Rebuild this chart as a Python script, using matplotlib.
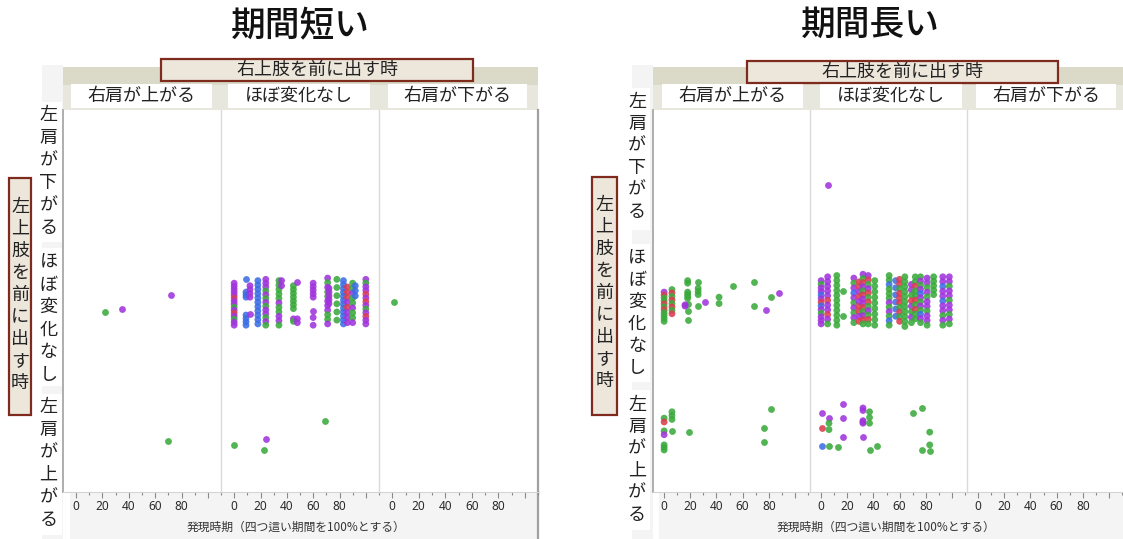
import matplotlib
matplotlib.use("Agg")
import matplotlib.pyplot as plt
import numpy as np
from matplotlib.patches import Rectangle
from matplotlib.ticker import FixedLocator

# ---------------------------------------------------------------------------
# Data: onset timing (% of the crawling period) per facet cell.
# Each entry: (onset %, colour codes of stacked points, jitter top, jitter bottom)
# jitter is in percent of the row height, relative to the row centre.
# Colour codes: P purple, G green, B blue, R red.
# ---------------------------------------------------------------------------
row_labels = ["左肩が下がる", "ほぼ変化なし", "左肩が上がる"]
col_labels = ["右肩が上がる", "ほぼ変化なし", "右肩が下がる"]
chart_titles = ["期間短い", "期間長い"]
col_group_label = "右上肢を前に出す時"
row_group_label = "左上肢を前に出す時"
x_label = "発現時期（四つ這い期間を100%とする）"
tick_values = [0, 20, 40, 60, 80, 100]
tick_labels = ["0", "20", "40", "60", "80", ""]

# 期間短い
short_same_rup = [(22, "G", 9, 9), (35, "P", 6, 6), (72, "P", -5, -5)]
short_same_rsame = [
    (0, "PPPPPRPPGPRPGPP", -14, 19),
    (9, "B", -17, -17), (9, "BBB", -7, -3), (9, "BBBB", 11, 19),
    (12, "PPPP", -12, -3), (12, "P", 10, 10),
    (18, "BBBBBBBBBBB", -16, 18),
    (24, "PPPGPGPGPPGPG", -17, 19),
    (34, "GGGGGPGGPPG", -16, 19),
    (36, "PP", -16, -12),
    (45, "GGGGGGG", -12, 6), (45, "PG", 14, 16),
    (48, "P", -15, -15), (48, "PP", 14, 17),
    (60, "PPPPP", -14, -3), (60, "P", 8, 8), (60, "PP", 13, 19),
    (71, "PGPGGPPPGGP", -18, 18),
    (72, "PPPPP", -10, 2),
    (78, "GGGGGG", -17, 15),
    (83, "BBBBBBBBBBBB", -16, 18),
    (86, "RRRPRPPP", -11, 17),
    (90, "GGPGGPGGP", -14, 17),
    (92, "BBB", -12, -4),
    (100, "PGPPRPRPGPRPP", -17, 18),
]
short_same_rdown = [(1, "G", 1, 1)]
short_up_rup = [(70, "G", 10, 10)]
short_up_rsame = [(0, "G", 13, 13), (23, "G", 17, 17), (24, "P", 8, 8),
                  (69, "G", -6, -6)]

# 期間長い
long_down_rsame = [(5, "P", 9, 9)]
long_same_rup = [
    (0, "PRGGRGRGGGG", -7, 16),
    (6, "GRGRGRGR", -9, 10),
    (18, "GG", -16, -14), (18, "GGGG", -7, -2), (18, "G", 2, 2),
    (18, "G", 8, 8), (18, "G", 15, 15),
    (16, "PP", 3, 4),
    (26, "G", -15, -15), (26, "GGG", -10, -5), (26, "G", 4, 4),
    (31, "P", 1, 1),
    (42, "GG", -3, 2),
    (53, "G", -12, -12),
    (69, "G", -15, -15), (69, "G", 4, 4),
    (78, "P", 7, 7),
    (82, "G", -3, -3),
    (88, "P", -6, -6),
]
long_same_rsame = [
    (0, "PGPPBPRBPGPPP", -16, 18),
    (5, "PPPPPRPPRPG", -19, 18),
    (12, "GGGGGGGGGGG", -20, 19),
    (17, "G", -8, -8), (17, "G", 12, 12),
    (25, "PGPBPGPGPG", -18, 17),
    (29, "RRPRPRRPR", -15, 16),
    (32, "PGRPGRPPRGPRG", -21, 18),
    (36, "PRGPRGRGPGRG", -20, 18),
    (41, "GGGGGGGGG", -16, 19),
    (52, "GGBGGGPGPGBG", -20, 19),
    (57, "BBBBBB", -16, 12),
    (60, "RRGRRRGRGR", -17, 16),
    (64, "GGGGGGGGGGG", -19, 20),
    (69, "PPGRPGPG", -13, 17),
    (72, "GGRGGRGRGG", -19, 14),
    (76, "GPGPBPGPGBPG", -19, 17),
    (81, "PPGPGPPGPPG", -18, 19),
    (86, "GGGGG", -19, -5),
    (93, "PPBPPBPPGPG", -19, 19),
    (98, "PPGPPGPPGPG", -19, 18),
]
long_up_rup = [
    (0, "GR", -8, -5), (0, "GP", 2, 5), (0, "GGG", 13, 17),
    (6, "GGG", -13, -7), (6, "G", 2, 2),
    (19, "G", 3, 3),
    (76, "G", 0, 0), (76, "G", 11, 11),
    (82, "G", -15, -15),
]
long_up_rsame = [
    (1, "P", -12, -12), (1, "R", 0, 0), (1, "B", 14, 14),
    (6, "P", -8, -8), (6, "GG", -4, 1), (6, "G", 14, 14),
    (13, "G", 15, 15),
    (17, "P", -19, -19), (17, "P", -8, -8), (17, "P", 7, 7),
    (32, "PP", -16, -14), (32, "PPP", -6, -4), (32, "P", 7, 7),
    (37, "GGG", -13, -4), (37, "G", 17, 17),
    (43, "G", 14, 14),
    (70, "G", -12, -12),
    (77, "G", -16, -16), (77, "G", 17, 17),
    (83, "GG", 3, 13), (83, "G", 18, 18),
]

short_cells = {(1, 0): short_same_rup, (1, 1): short_same_rsame,
               (1, 2): short_same_rdown, (2, 0): short_up_rup,
               (2, 1): short_up_rsame}
long_cells = {(0, 1): long_down_rsame, (1, 0): long_same_rup,
              (1, 1): long_same_rsame, (2, 0): long_up_rup,
              (2, 1): long_up_rsame}

COLORS = {"P": "#a034dc", "G": "#3aaa3c", "B": "#3c6ee4", "R": "#dc3c50"}

# ---------------------------------------------------------------------------
W, H = 1123, 539
plt.rcParams['font.family'] = ['Noto Sans CJK JP', 'DejaVu Sans']
fig = plt.figure(figsize=(W / 100, H / 100), dpi=100)

bg = fig.add_axes([0, 0, 1, 1], zorder=0)
bg.set_xlim(0, W)
bg.set_ylim(H, 0)
bg.axis("off")

TXT = "#222222"
BOX_FC = "#ede6db"
BOX_EC = "#7e2a1c"


def rect(x0, y0, x1, y1, fc, ec="none", lw=0):
    bg.add_patch(Rectangle((x0, y0), x1 - x0, y1 - y0, facecolor=fc,
                           edgecolor=ec, linewidth=lw))


def vtext(cx, y_first, text, pitch, size=13):
    for i, ch in enumerate(text):
        bg.text(cx, y_first + i * pitch, ch, ha="center", va="center",
                fontsize=size, color=TXT)


def px_axes(x0, y0, x1, y1):
    return fig.add_axes([x0 / W, 1 - y1 / H, (x1 - x0) / W, (y1 - y0) / H],
                        zorder=1)


def draw_chart(layout, cells):
    L = layout
    # surrounding light panels
    rect(L["outer_x"], 65, L["px"][0], H, "#f4f4f4")
    rect(L["px"][0], 67, L["px"][-1], 110, "#e7e7dd")
    rect(L["px"][0], 67, L["px"][-1], 85, "#dbdac8")
    rect(L["strip_x"], 492, L["px"][-1], H, "#f4f4f4")

    # column headers
    for (x0, x1), lab in zip(L["sub"], col_labels):
        rect(x0, 84, x1, 108, "white")
        bg.text((x0 + x1) / 2, 96, lab, ha="center", va="center",
                fontsize=13, color=TXT)
    hx0, hy0, hx1, hy1 = L["head"]
    rect(hx0, hy0, hx1, hy1, BOX_FC, BOX_EC, 1.6)
    bg.text((hx0 + hx1) / 2, (hy0 + hy1) / 2 - 0.5, col_group_label,
            ha="center", va="center", fontsize=13, color=TXT)

    # row headers
    for (y0, y1), yf, lab in zip(L["rowbox"], L["rowfirst"], row_labels):
        rect(L["rowx"][0], y0, L["rowx"][1], y1, "white")
        vtext((L["rowx"][0] + L["rowx"][1]) / 2, yf, lab, L["pitch"])
    gx0, gy0, gx1, gy1 = L["rowgroup"]
    rect(gx0, gy0, gx1, gy1, BOX_FC, BOX_EC, 1.6)
    vtext((gx0 + gx1) / 2, L["rowgroup_first"], row_group_label, 22)

    # title and axis label
    bg.text(L["title_x"], 25, L["title"], ha="center", va="center",
            fontsize=25, fontweight="medium", color="#111111")
    bg.text(L["xlab_x"], 527, x_label, ha="center", va="center",
            fontsize=8.5, color="#333333")

    # facet panels
    xs = L["px"]
    for c in range(3):
        ax = px_axes(xs[c], 110, xs[c + 1], 492)
        ax.set_facecolor("white")
        ax.set_xlim(*L["xlim"])
        ax.set_ylim(3, 0)
        ax.set_yticks([])
        ax.set_xticks(tick_values)
        ax.set_xticklabels(tick_labels, fontsize=8.5, color="#2a2a2a",
                           family=["Noto Sans", "DejaVu Sans"])
        ax.xaxis.set_minor_locator(FixedLocator([10, 30, 50, 70, 90, 110]))
        ax.tick_params(axis="x", which="major", direction="out", length=4.5,
                       width=0.8, color="#8a8a8a", pad=1.5)
        ax.tick_params(axis="x", which="minor", direction="out", length=2.5,
                       width=0.8, color="#8a8a8a")
        ax.spines["top"].set_visible(False)
        ax.spines["bottom"].set_color("#d4d4d4")
        ax.spines["bottom"].set_linewidth(0.8)
        if c == 0:
            ax.spines["left"].set_color("#a8a8a8")
            ax.spines["left"].set_linewidth(1.3)
        else:
            ax.spines["left"].set_color("#dadada")
            ax.spines["left"].set_linewidth(1.0)
        if c == 2 and L["right_border"]:
            ax.spines["right"].set_color("#a0a0a0")
            ax.spines["right"].set_linewidth(1.6)
        else:
            ax.spines["right"].set_visible(False)

        for r in range(3):
            for xv, codes, lo, hi in cells.get((r, c), []):
                n = len(codes)
                offs = np.linspace(lo, hi, n) if n > 1 else np.array([lo])
                ys = r + 0.5 + offs / 100.0
                cols = [COLORS[k] for k in codes]
                ax.scatter(np.full(n, xv), ys, s=24, c=cols, alpha=0.88,
                           linewidths=0, zorder=3, clip_on=False)

    if L["right_border"]:
        bg.plot([xs[-1], xs[-1]], [492, H], color="#a0a0a0", lw=1.6)


short_layout = dict(
    title=chart_titles[0], title_x=300, xlab_x=296,
    outer_x=42, strip_x=70, px=[63, 221, 379, 538], xlim=(-10, 110),
    sub=[(71, 212), (228, 370), (388, 527)], head=(161, 59, 473, 81),
    rowx=(35, 62), rowbox=[(102, 242), (248, 386), (394, 535)],
    rowfirst=[115, 262, 407], pitch=22.6,
    rowgroup=(9, 178, 31, 415), rowgroup_first=207, right_border=True,
)
long_layout = dict(
    title=chart_titles[1], title_x=870, xlab_x=886,
    outer_x=632, strip_x=659, px=[653, 810, 967, 1124], xlim=(-8.5, 111.5),
    sub=[(662, 803), (820, 962), (976, 1116)], head=(747, 61, 1058, 83),
    rowx=(624, 650), rowbox=[(88, 230), (244, 382), (390, 530)],
    rowfirst=[102, 258, 405], pitch=22.0,
    rowgroup=(592, 177, 617, 415), rowgroup_first=205, right_border=False,
)

draw_chart(short_layout, short_cells)
draw_chart(long_layout, long_cells)

fig.savefig("out.png", dpi=100)
